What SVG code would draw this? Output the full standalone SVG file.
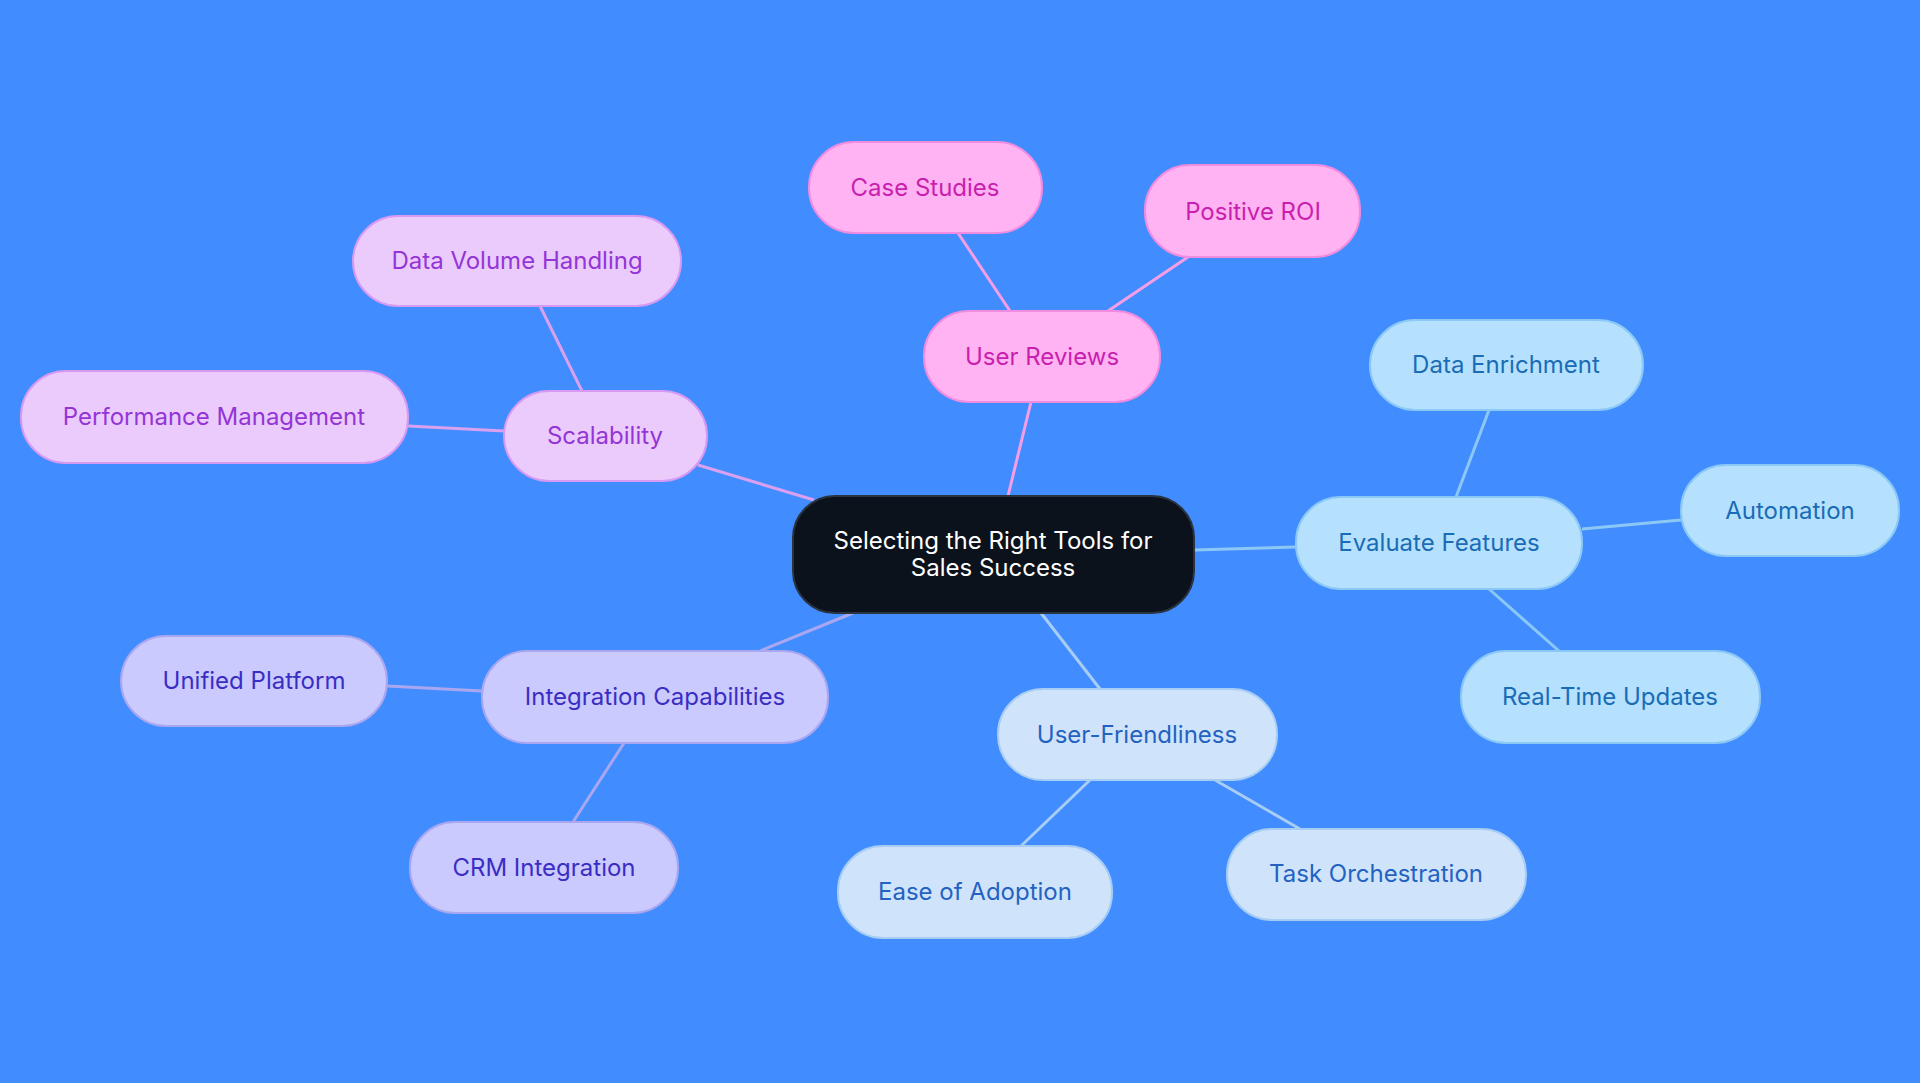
<svg xmlns="http://www.w3.org/2000/svg" width="1920" height="1083" viewBox="0 0 1920 1083">
<style>
text{font-family:Inter,"Liberation Sans",sans-serif;font-size:24px;text-anchor:middle;dominant-baseline:central}
.pk rect{fill:#ffb3f2;stroke:#f08ce0;stroke-width:2}.pk text{fill:#c91fae}
.pu rect{fill:#ebcbfc;stroke:#d79af2;stroke-width:2}.pu text{fill:#9435d6}
.bl rect{fill:#b5e1ff;stroke:#8cc8f5;stroke-width:2}.bl text{fill:#1a6cb5}
.lb rect{fill:#cfe4fb;stroke:#a8cdf5;stroke-width:2}.lb text{fill:#2462c2}
.in rect{fill:#cacaff;stroke:#a9a7f0;stroke-width:2}.in text{fill:#3a2dc4}
line{stroke-width:3}
</style>
<rect width="1920" height="1083" fill="#418cff"/>
<g id="connectors">
<g stroke="#f59ee6"><line x1="1008" y1="496" x2="1031" y2="402"/><line x1="1010" y1="311" x2="958" y2="233"/><line x1="1108" y1="311" x2="1188" y2="257"/></g>
<g stroke="#d9a0f0"><line x1="814" y1="500" x2="698" y2="465"/><line x1="582" y1="391" x2="540" y2="306"/><line x1="504" y1="431" x2="408" y2="426"/></g>
<g stroke="#8cc8f5"><line x1="1194" y1="550" x2="1296" y2="547"/><line x1="1456" y1="497" x2="1489" y2="410"/><line x1="1582" y1="529" x2="1681" y2="520"/><line x1="1489" y1="589" x2="1559" y2="651"/></g>
<g stroke="#a8cdf5"><line x1="1041" y1="613" x2="1100" y2="689"/><line x1="1090" y1="780" x2="1021" y2="846"/><line x1="1215" y1="780" x2="1300" y2="829"/></g>
<g stroke="#a9a7f0"><line x1="853" y1="613" x2="760" y2="651"/><line x1="482" y1="691" x2="387" y2="686"/><line x1="624" y1="743" x2="573" y2="822"/></g>
</g>
<g id="center"><rect x="793" y="496" width="401" height="117" rx="42" fill="#0c121b" stroke="#2a3340" stroke-width="2"/><text x="993" y="540" fill="#fff">Selecting the Right Tools for</text><text x="993" y="567" fill="#fff">Sales Success</text></g>
<g id="userReviews" class="pk"><rect x="924" y="311" width="236" height="91" rx="45"/><text x="1042" y="356">User Reviews</text></g>
<g id="caseStudies" class="pk"><rect x="809" y="142" width="233" height="91" rx="45"/><text x="925" y="187">Case Studies</text></g>
<g id="positiveROI" class="pk"><rect x="1145" y="165" width="215" height="92" rx="45"/><text x="1253" y="211">Positive ROI</text></g>
<g id="scalability" class="pu"><rect x="504" y="391" width="203" height="90" rx="45"/><text x="605" y="435">Scalability</text></g>
<g id="dataVolume" class="pu"><rect x="353" y="216" width="328" height="90" rx="45"/><text x="517" y="260">Data Volume Handling</text></g>
<g id="performance" class="pu"><rect x="21" y="371" width="387" height="92" rx="45"/><text x="214" y="416">Performance Management</text></g>
<g id="evaluate" class="bl"><rect x="1296" y="497" width="286" height="92" rx="45"/><text x="1439" y="542">Evaluate Features</text></g>
<g id="dataEnrichment" class="bl"><rect x="1370" y="320" width="273" height="90" rx="45"/><text x="1506" y="364">Data Enrichment</text></g>
<g id="automation" class="bl"><rect x="1681" y="465" width="218" height="91" rx="45"/><text x="1790" y="510">Automation</text></g>
<g id="realTime" class="bl"><rect x="1461" y="651" width="299" height="92" rx="45"/><text x="1610" y="696">Real-Time Updates</text></g>
<g id="userFriendliness" class="lb"><rect x="998" y="689" width="279" height="91" rx="45"/><text x="1137" y="734">User-Friendliness</text></g>
<g id="easeAdoption" class="lb"><rect x="838" y="846" width="274" height="92" rx="45"/><text x="975" y="891">Ease of Adoption</text></g>
<g id="taskOrch" class="lb"><rect x="1227" y="829" width="299" height="91" rx="45"/><text x="1376" y="873">Task Orchestration</text></g>
<g id="integration" class="in"><rect x="482" y="651" width="346" height="92" rx="45"/><text x="655" y="696">Integration Capabilities</text></g>
<g id="unified" class="in"><rect x="121" y="636" width="266" height="90" rx="45"/><text x="254" y="680">Unified Platform</text></g>
<g id="crm" class="in"><rect x="410" y="822" width="268" height="91" rx="45"/><text x="544" y="867">CRM Integration</text></g>
</svg>
